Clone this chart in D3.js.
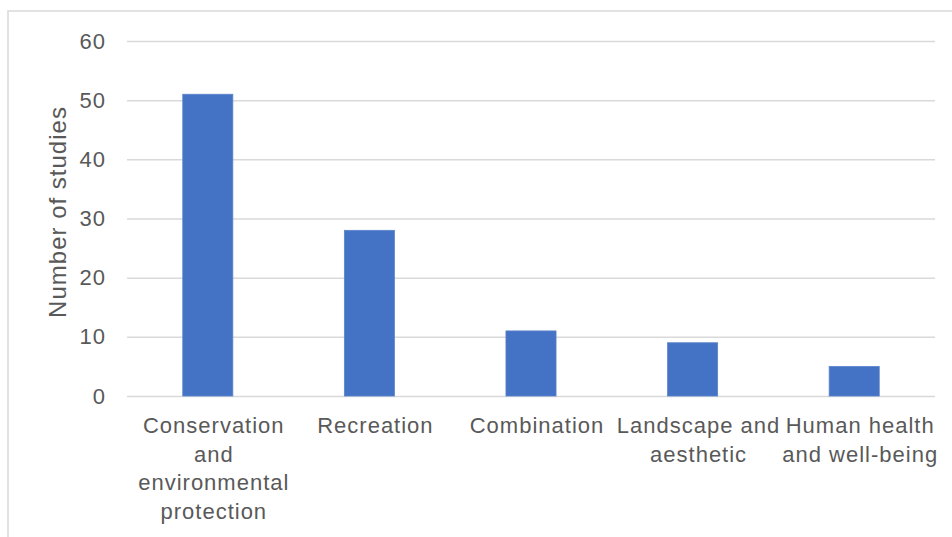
<!DOCTYPE html>
<html>
<head>
<meta charset="utf-8">
<script src="https://cdn.jsdelivr.net/npm/d3@7"></script>
<style>
  html, body { margin: 0; padding: 0; background: #ffffff; }
  svg { display: block; }
  text { font-family: "Liberation Sans", Arial, Helvetica, sans-serif; fill: #595959; }
</style>
</head>
<body>
<svg id="chart" width="952" height="537"></svg>
<script>
// Purpose categories and number of studies in each
const categories = [
  "Conservation and environmental protection",
  "Recreation",
  "Combination",
  "Landscape and aesthetic",
  "Human health and well-being"
];
const categoryLines = [
  ["Conservation", "and", "environmental", "protection"],
  ["Recreation"],
  ["Combination"],
  ["Landscape and", "aesthetic"],
  ["Human health", "and well-being"]
];
const studies = [51, 28, 11, 9, 5];
const yTicks = [0, 10, 20, 30, 40, 50, 60];
const yTitle = "Number of studies";

const svg = d3.select("#chart");

// outer chart frame
svg.append("rect")
  .attr("x", 8).attr("y", 11)
  .attr("width", 960).attr("height", 540)
  .attr("fill", "none")
  .attr("stroke", "#d9d9d9")
  .attr("stroke-width", 1.5);

const x = d3.scaleBand()
  .domain(categories)
  .range([127, 935])
  .paddingInner(0.69)
  .paddingOuter(0.345);

const y = d3.scaleLinear()
  .domain([0, 60])
  .range([396, 41]);

// horizontal gridlines with value labels
const yAxis = d3.axisLeft(y)
  .tickValues(yTicks)
  .tickSize(-(935 - 127))
  .tickPadding(21)
  .tickFormat(d3.format("d"));

const gy = svg.append("g")
  .attr("transform", "translate(127,0)")
  .call(yAxis);
gy.select(".domain").remove();
gy.selectAll(".tick line")
  .attr("stroke", "#d9d9d9")
  .attr("stroke-width", 1.5);
gy.selectAll(".tick text")
  .attr("font-size", 22)
  .attr("letter-spacing", 1)
  .attr("fill", "#595959")
  .style("font-family", "'Liberation Sans', Arial, Helvetica, sans-serif");

// bars
svg.append("g")
  .selectAll("rect")
  .data(studies)
  .join("rect")
  .attr("x", (d, i) => x(categories[i]))
  .attr("y", d => y(d))
  .attr("width", x.bandwidth())
  .attr("height", d => y(0) - y(d))
  .attr("fill", "#4472c4")
  .attr("stroke", "#5b84cc")
  .attr("stroke-width", 0.8);

// category labels, wrapped over several lines
const labels = svg.append("g")
  .selectAll("text")
  .data(categories)
  .join("text")
  .attr("text-anchor", "middle")
  .attr("font-size", 22)
  .attr("letter-spacing", 1)
  .attr("x", d => x(d) + x.bandwidth() / 2 + 6)
  .attr("y", 433);
labels.each(function(d, i) {
  d3.select(this).selectAll("tspan")
    .data(categoryLines[i])
    .join("tspan")
    .attr("x", x(d) + x.bandwidth() / 2 + 6)
    .attr("dy", (t, j) => j === 0 ? 0 : 28.5)
    .text(t => t);
});

// y axis title
svg.append("text")
  .attr("transform", "translate(66,212) rotate(-90)")
  .attr("text-anchor", "middle")
  .attr("font-size", 24)
  .attr("letter-spacing", 1)
  .text(yTitle);
</script>
</body>
</html>
